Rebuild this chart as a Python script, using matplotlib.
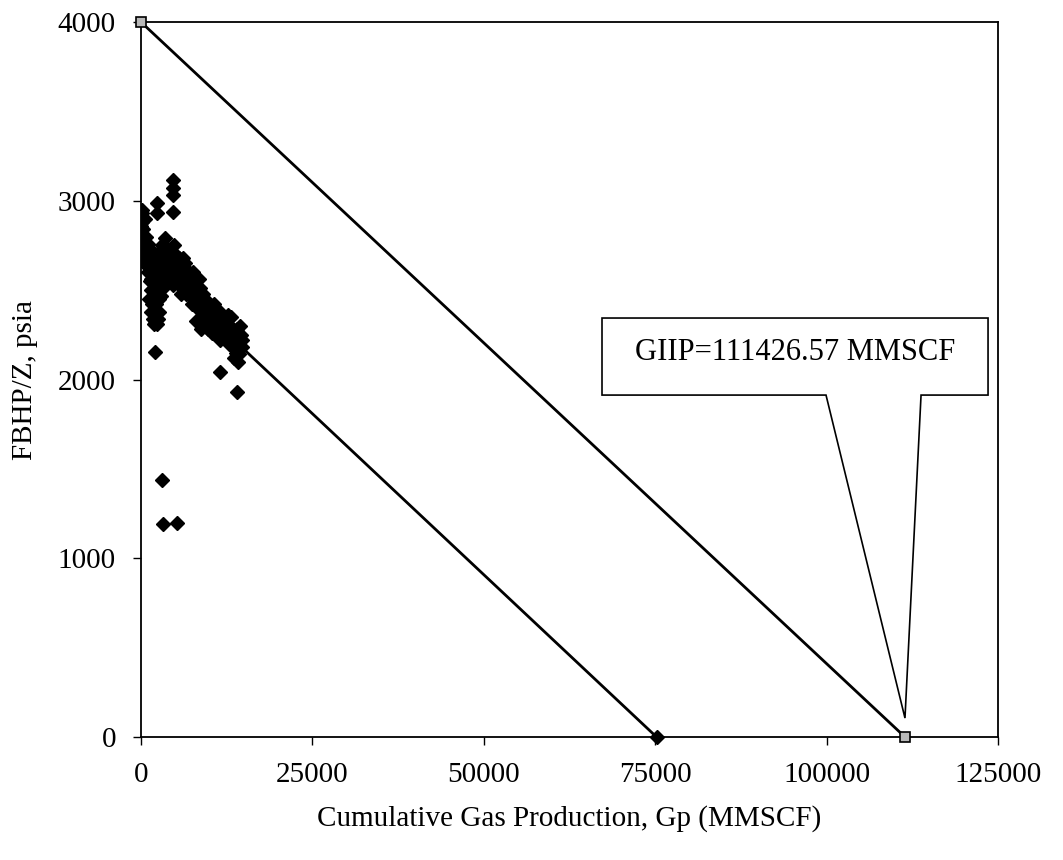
from matplotlib import pyplot as plt
from matplotlib.patches import Polygon

plt.rcParams['font.family'] = ['Liberation Serif', 'DejaVu Serif']

gp = [100, 200, 300, 150, 400, 250, 500, 100, 350, 600, 200, 450, 800, 700, 900, 50, 550, 150,
      1000, 1200, 1400, 1100, 1300, 1500, 1200, 1600, 1400, 1700, 1900, 2100, 2000, 1800, 2200,
      2400, 2300, 2600, 2000, 2500, 2800, 1800, 2200, 2600, 3000, 3200, 2800, 2400, 3400, 3500,
      3600, 3800, 3000, 2000, 1600, 3100, 3300, 2900, 2700, 2500, 2300, 2700, 1500, 2100,
      4000, 4200, 4500, 4300, 4700, 5000, 5200, 5500, 5300, 5800, 6000, 6200, 6500, 6800, 4800,
      5600, 6400, 7000, 6600, 5900, 4400, 5100, 6100,
      7200, 7500, 7800, 8000, 8200, 8500, 8700, 9000, 9200, 9500, 9800, 7400, 8000, 8800, 9600,
      10000, 7000, 7600, 8400, 9100, 9900, 8600, 7900,
      10200, 10500, 10800, 11000, 11300, 11500, 11800, 12000, 12200, 12500, 12800, 10600, 11600,
      12400, 11100, 12100, 12700, 10300,
      13000, 13300, 13600, 13800, 14000, 14200, 14400, 14600, 14800, 13500, 14100, 13200, 14500,
      13900, 14300,
      5400, 6300, 7100, 7700, 8300, 8900, 9400, 10100, 10700, 11200, 11900, 12600, 13100, 13700,
      6900, 7300, 8100, 9300, 9700, 10400, 10900, 11400, 12300, 12900, 13400, 14700, 4600, 3900,
      4700, 4700, 4700, 4700, 2300, 2300, 2000, 11500, 14000, 3100, 3200, 5200]
pz = [2930, 2880, 2840, 2800, 2780, 2760, 2740, 2720, 2700, 2690, 2670, 2650, 2720, 2800, 2760,
      2860, 2900, 2950,
      2760, 2700, 2650, 2600, 2550, 2500, 2450, 2420, 2380, 2340, 2310, 2330, 2380, 2450, 2420,
      2380, 2480, 2450, 2520, 2560, 2520, 2600, 2640, 2620, 2600, 2660, 2700, 2700, 2720, 2790,
      2740, 2690, 2750, 2680, 2720, 2560, 2520, 2470, 2380, 2340, 2310, 2580, 2560, 2470,
      2700, 2640, 2600, 2560, 2530, 2700, 2650, 2600, 2550, 2520, 2620, 2570, 2540, 2500, 2750,
      2680, 2650, 2600, 2480, 2480, 2720, 2590, 2680,
      2560, 2500, 2450, 2520, 2400, 2470, 2350, 2420, 2300, 2380, 2280, 2420, 2330, 2280, 2440,
      2340, 2480, 2600, 2560, 2480, 2400, 2510, 2540,
      2400, 2300, 2350, 2250, 2320, 2220, 2280, 2350, 2230, 2300, 2200, 2420, 2380, 2330, 2380,
      2300, 2360, 2260,
      2300, 2250, 2200, 2150, 2280, 2230, 2180, 2250, 2220, 2120, 2100, 2350, 2300, 2190, 2140,
      2580, 2600, 2530, 2480, 2440, 2380, 2340, 2300, 2280, 2350, 2250, 2250, 2230, 2260,
      2560, 2460, 2450, 2400, 2330, 2360, 2310, 2260, 2270, 2270, 2180, 2180, 2640, 2600,
      3116, 3071, 3032, 2937, 2987, 2931, 2154, 2042, 1930, 1438, 1190, 1195]

# Material balance lines
giip = 111426.57
upper_x = [0, giip]
upper_y = [4000, 0]
lower_x = [0, 75200]
lower_y = [2710, 0]

fig = plt.figure(figsize=(10.63, 8.6), dpi=100)
ax = fig.add_axes([0.1326, 0.143, 0.8063, 0.8314])

ax.plot(lower_x, lower_y, color='black', lw=2.0, zorder=2)
ax.plot(upper_x, upper_y, color='black', lw=2.0, zorder=2)
ax.plot(gp, pz, linestyle='none', marker='D', ms=7.5, mfc='black', mec='black', zorder=3)
ax.plot(lower_x[1:], lower_y[1:], linestyle='none', marker='D', ms=7.5, mfc='black',
        mec='black', zorder=3, clip_on=False)
ax.plot(upper_x, upper_y, linestyle='none', marker='s', ms=7.5, mfc='#b8b8b8', mec='black',
        mew=1.2, zorder=4, clip_on=False)

# Callout box with pointer to GIIP
callout = Polygon([(67240, 2344), (123540, 2344), (123540, 1913), (113770, 1913),
                   (giip, 106), (99910, 1913), (67240, 1913)],
                  closed=True, facecolor='white', edgecolor='black', lw=1.2, zorder=5)
ax.add_patch(callout)
ax.text(95400, 2150, 'GIIP=111426.57 MMSCF', fontsize=22, ha='center', va='center', zorder=6)

ax.set_xlim(0, 125000)
ax.set_ylim(0, 4000)
ax.set_xticks([0, 25000, 50000, 75000, 100000, 125000])
ax.set_yticks([0, 1000, 2000, 3000, 4000])
ax.tick_params(labelsize=21, length=6, width=1, pad=12)
for s in ax.spines.values():
    s.set_linewidth(1.3)

ax.set_xlabel('Cumulative Gas Production, Gp (MMSCF)', fontsize=21, labelpad=12)
ax.set_ylabel('FBHP/Z, psia', fontsize=21, labelpad=14)

plt.savefig('out.png', dpi=100)
